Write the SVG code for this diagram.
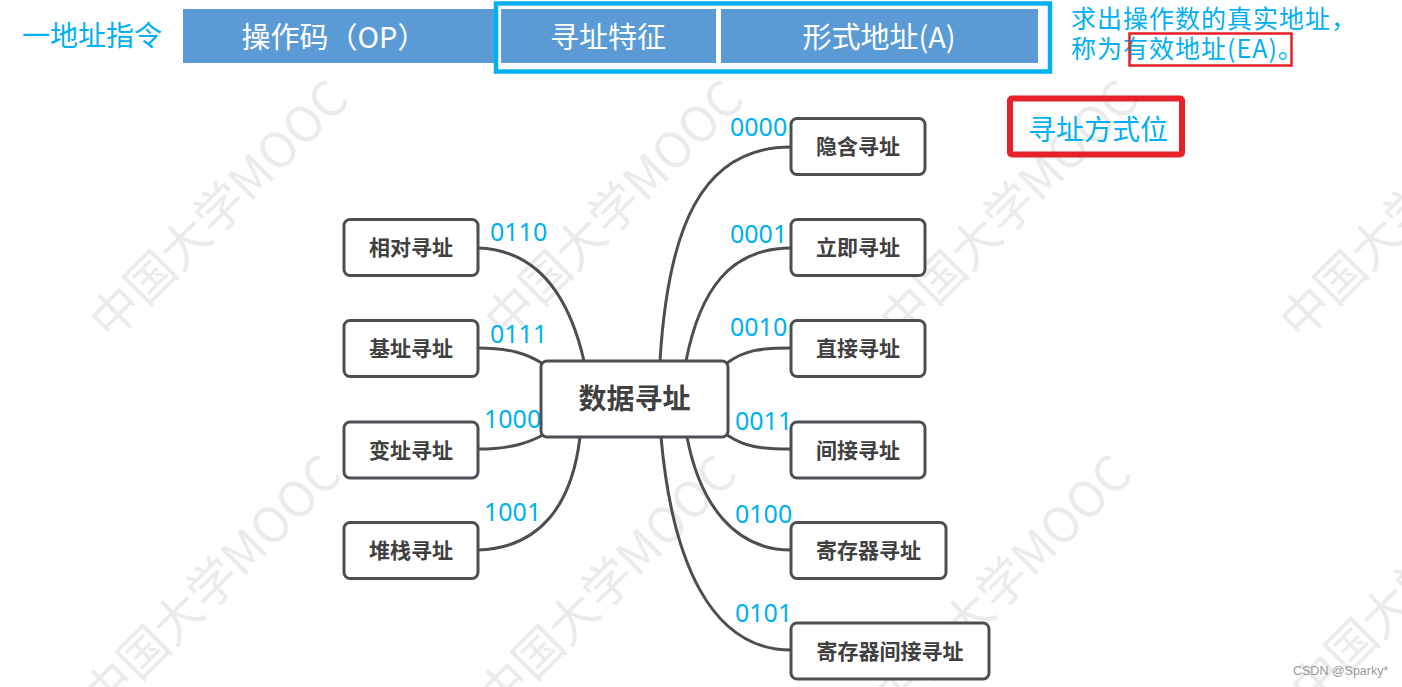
<svg xmlns="http://www.w3.org/2000/svg" width="1402" height="687" viewBox="0 0 1402 687">
<style>
.wm{font-family:"Noto Sans CJK SC","Noto Sans",sans-serif;font-size:49px;fill:#ebebeb}
.bar{fill:#5B9BD5}
.bart{font-family:"Noto Sans CJK SC",sans-serif;font-size:29px;fill:#ffffff;text-anchor:middle}
.cy{font-family:"Noto Sans CJK SC",sans-serif;fill:#00B0F0}
.num{font-family:"Noto Sans","Liberation Sans",sans-serif;font-size:25px;fill:#00B0F0}
.node rect{fill:#ffffff;stroke:#4B4F54;stroke-width:3}
.node text{font-family:"Noto Sans CJK SC",sans-serif;font-size:21px;font-weight:bold;fill:#404040;text-anchor:middle}
.edge path{fill:none;stroke:#4B4F54;stroke-width:3;stroke-linecap:round}
</style>
<rect x="0" y="0" width="1402" height="687" fill="#ffffff"/>
<g id="watermarks">
<text class="wm" transform="translate(111,342) rotate(-45)">中国大学MOOC</text>
<text class="wm" transform="translate(506,342) rotate(-45)">中国大学MOOC</text>
<text class="wm" transform="translate(901,342) rotate(-45)">中国大学MOOC</text>
<text class="wm" transform="translate(1301,342) rotate(-45)">中国大学MOOC</text>
<text class="wm" transform="translate(104,717) rotate(-45)">中国大学MOOC</text>
<text class="wm" transform="translate(499,717) rotate(-45)">中国大学MOOC</text>
<text class="wm" transform="translate(894,717) rotate(-45)">中国大学MOOC</text>
<text class="wm" transform="translate(1312,710) rotate(-45)">中国大学MOOC</text>
</g>
<g id="header">
<text class="cy" x="22" y="46" font-size="28">一地址指令</text>
<g id="op"><rect class="bar" x="183" y="9" width="314" height="54"/><text class="bart" x="334" y="48" font-size="28">操作码（OP）</text></g>
<rect x="496" y="3.5" width="554" height="68" fill="#ffffff" stroke="#00B0F0" stroke-width="4.5"/>
<g id="feature"><rect class="bar" x="501" y="9" width="215" height="54"/><text class="bart" x="608" y="48">寻址特征</text></g>
<g id="formal"><rect class="bar" x="721" y="9" width="317" height="54"/><text class="bart" x="879" y="48" font-size="30">形式地址(A)</text></g>
<text class="cy" x="1071" y="28" font-size="25" letter-spacing="1">求出操作数的真实地址，</text>
<text class="cy" x="1071" y="58" font-size="25" letter-spacing="1">称为有效地址(EA)。</text>
<rect x="1129.5" y="33.5" width="162" height="32" fill="none" stroke="#E8202A" stroke-width="2.5"/>
<g id="mode-bits"><rect x="1010" y="98.5" width="172" height="56" rx="2" fill="none" stroke="#E8202A" stroke-width="6"/><text class="cy" x="1028" y="140" font-size="28">寻址方式位</text></g>
</g>
<g id="connectors" class="edge">
<path d="M660,361 C668,230 700,147 791,147"/>
<path d="M686,361 C700,290 730,248 791,248"/>
<path d="M727,363 C745,350 760,348 791,348"/>
<path d="M727,435 C745,447 760,449 791,449"/>
<path d="M687,437 C700,505 735,550 791,550"/>
<path d="M661,437 C672,560 710,650 791,650"/>
<path d="M478,248 C540,250 570,300 584,361"/>
<path d="M478,348 C510,348 528,354 543,364"/>
<path d="M478,449 C510,449 528,443 543,435"/>
<path d="M478,550 C540,548 572,505 580,437"/>
</g>
<g id="labels">
<text class="num" x="730" y="136">0000</text>
<text class="num" x="730" y="243">0001</text>
<text class="num" x="730" y="336">0010</text>
<text class="num" x="735" y="430">0011</text>
<text class="num" x="735" y="523">0100</text>
<text class="num" x="735" y="622">0101</text>
<text class="num" x="490" y="241">0110</text>
<text class="num" x="490" y="343">0111</text>
<text class="num" x="484" y="428">1000</text>
<text class="num" x="484" y="521">1001</text>
</g>
<g id="center" class="node"><rect x="541" y="361" width="187" height="76" rx="6"/><text x="634.5" y="409" style="font-size:28px">数据寻址</text></g>
<g id="n-rel" class="node"><rect x="344" y="219.5" width="134" height="56" rx="6"/><text x="411" y="255">相对寻址</text></g>
<g id="n-base" class="node"><rect x="344" y="320.5" width="134" height="56" rx="6"/><text x="411" y="356">基址寻址</text></g>
<g id="n-idx" class="node"><rect x="344" y="422" width="134" height="56" rx="6"/><text x="411" y="457.5">变址寻址</text></g>
<g id="n-stack" class="node"><rect x="344" y="522.5" width="134" height="56" rx="6"/><text x="411" y="558">堆栈寻址</text></g>
<g id="n-implied" class="node"><rect x="791" y="118.5" width="134" height="56" rx="6"/><text x="858" y="154">隐含寻址</text></g>
<g id="n-imm" class="node"><rect x="791" y="219.5" width="134" height="56" rx="6"/><text x="858" y="255">立即寻址</text></g>
<g id="n-direct" class="node"><rect x="791" y="320.5" width="134" height="56" rx="6"/><text x="858" y="356">直接寻址</text></g>
<g id="n-indirect" class="node"><rect x="791" y="422" width="134" height="56" rx="6"/><text x="858" y="457.5">间接寻址</text></g>
<g id="n-reg" class="node"><rect x="791" y="522.5" width="155" height="56" rx="6"/><text x="868.5" y="558">寄存器寻址</text></g>
<g id="n-regind" class="node"><rect x="791" y="623" width="198" height="56" rx="6"/><text x="890" y="658.5">寄存器间接寻址</text></g>
<text x="1293" y="675" font-family="Liberation Sans, Arial, sans-serif" font-size="12.5" fill="#999999">CSDN @Sparky*</text>
</svg>
